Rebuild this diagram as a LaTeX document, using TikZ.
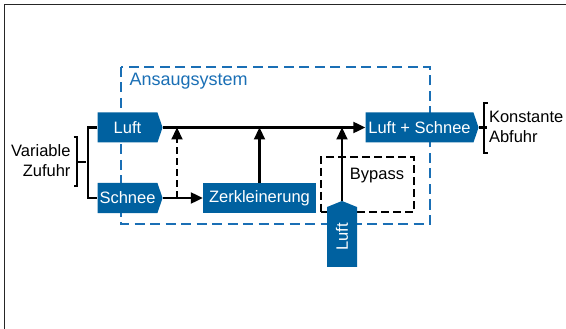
\documentclass[tikz,border=0pt]{standalone}
\usepackage{fontspec}
\setmainfont{Liberation Sans}
\usepackage{tikz}
\usepackage{xcolor}
\usetikzlibrary{shapes, shapes.symbols, arrows.meta}

\definecolor{boxblue}{RGB}{0,97,160}
\definecolor{frameblue}{RGB}{26,111,181}

\tikzset{
    flow/.style={signal, signal to=east, signal pointer angle=143, fill=boxblue, text=white,
        minimum height=30pt, inner sep=0pt},
    stage/.style={rectangle, fill=boxblue, text=white, minimum height=30pt, inner sep=0pt},
    pipe/.style={line width=2.2pt, -{Triangle[length=12pt, width=11pt]}}
}

\begin{document}
\begin{tikzpicture}[x=1pt, y=-1pt, font=\fontsize{16.5}{20}\selectfont]
        \useasboundingbox (0,0) rectangle (566,329);
        \draw[line width=1.6pt, black!85] (4.5,329) -- (4.5,4.5) -- (566,4.5);
        
        \draw[frameblue, line width=2.4pt, dash pattern=on 10pt off 5.5pt] (121,67) rectangle (430,224);
        \node[frameblue, anchor=west, font=\fontsize{18}{20}\selectfont] (ansaug) at (126,81) {Ansaugsystem};
        
        \node[draw, line width=2.4pt, dash pattern=on 8pt off 4pt, minimum width=93pt, minimum height=55pt] (bypass) at (367.5,184.5) {};
        \node (bptext) at (377,176) {Bypass};
        
        \node[flow, minimum width=65pt] (luft) at (127.5,127.5) {Luft};
        \node[flow, minimum width=65pt] (schnee) at (127.5,198) {Schnee};
        \node[stage, minimum width=113pt] (zerk) at (259.5,198) {Zerkleinerung};
        \node[flow, minimum width=113pt] (mix) at (419.5,127.5) {Luft + Schnee};
        \node[flow, signal pointer angle=136, rotate=90, minimum width=66pt] (luftb) at (342,237) {Luft};
        
        \coordinate (tap) at (177,127.5);
        
        \draw[pipe] (luft.east) -- (mix.west);
        \draw[pipe] (schnee.east) -- (zerk.west);
        \draw[pipe, dash pattern=on 7pt off 4pt] (tap |- schnee.east) -- (tap);
        \draw[pipe] (zerk.north) -- (zerk.north |- luft.east);
        \draw[pipe] (luftb.east) -- (luftb.east |- mix.west);
        
        \node[align=right, anchor=east] (zufuhr) at (74,161) {Variable\\Zufuhr};
        \node[align=left, anchor=west] (abfuhr) at (485.5,127) {Konstante\\Abfuhr};
        
        \draw[line width=2.2pt] (luft.west) -- ++(-9,0) |- (schnee.west)
            (86,162) -- (77,162)
            (73.5,137) -- (77,137) -- (77,186) -- (73.5,186);
        \draw[line width=2.2pt] (mix.east) -- ++(8,0)
            (487.5,103) -- (484,103) -- (484,153) -- (487.5,153);
    \end{tikzpicture}
\end{document}
